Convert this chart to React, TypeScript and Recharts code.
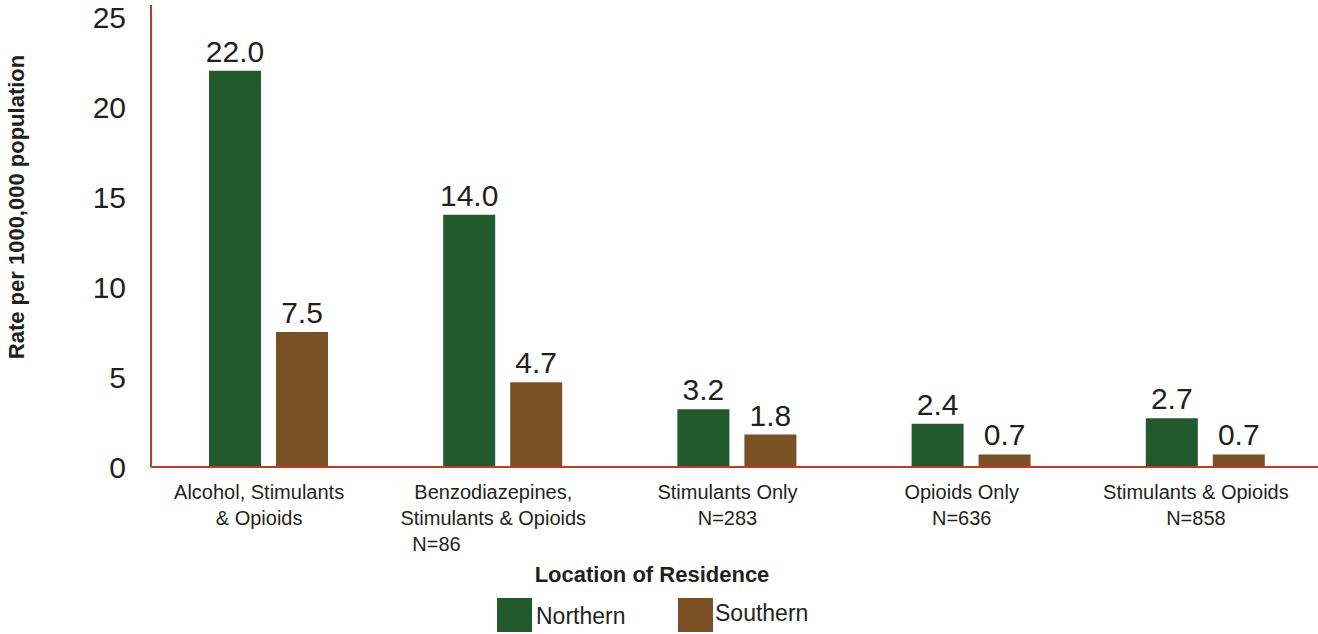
import React from "react";
import { BarChart, Bar, XAxis, YAxis, LabelList, Legend } from "recharts";

const categories = [
  "Alcohol, Stimulants\n& Opioids",
  "Benzodiazepines,\nStimulants & Opioids\nN=86",
  "Stimulants Only\nN=283",
  "Opioids Only\nN=636",
  "Stimulants & Opioids\nN=858",
];
const northern = [22.0, 14.0, 3.2, 2.4, 2.7];
const southern = [7.5, 4.7, 1.8, 0.7, 0.7];
const yTicks = [0, 5, 10, 15, 20, 25];
const seriesNames = ["Northern", "Southern"];
const colors = ["#225A2E", "#7A5024"];
const yTitle = "Rate per 1000,000 population";
const legendTitle = "Location of Residence";

const data = categories.map((c, i) => ({
  category: c,
  Northern: northern[i],
  Southern: southern[i],
}));

const FONT = "'Liberation Sans', Arial, sans-serif";
const TEXT = "#231F20";
const RED = "#BF3A2B";

const XTick = (props: any) => {
  const { x, y, payload } = props;
  const lines = String(payload.value).split("\n");
  return (
    <g>
      {lines.map((ln: string, i: number) => {
        const special = i >= 2;
        return (
          <text
            key={i}
            x={special ? x - 90 : x - 9}
            y={y + 32 + i * 26}
            textAnchor={special ? "start" : "middle"}
            fontFamily={FONT}
            fontSize={20}
            fill={TEXT}
          >
            {ln}
          </text>
        );
      })}
    </g>
  );
};

const YTick = (props: any) => {
  const { y, payload } = props;
  return (
    <text x={126} y={y + 11} textAnchor="end" fontFamily={FONT} fontSize={30} fill={TEXT}>
      {payload.value}
    </text>
  );
};

const YLabel = (props: any) => {
  const vb = props.viewBox || { y: 5, height: 462 };
  const cy = vb.y + vb.height / 2 - 29;
  return (
    <text
      x={24}
      y={cy}
      transform={`rotate(-90, 24, ${cy})`}
      textAnchor="middle"
      fontFamily={FONT}
      fontWeight="bold"
      fontSize={22}
      fill={TEXT}
    >
      {yTitle}
    </text>
  );
};

const LegendContent = (props: any) => {
  const payload = props.payload || [];
  const pos = [497, 678];
  return (
    <div style={{ position: "relative", width: 1318, height: 80, fontFamily: FONT }}>
      <div
        style={{
          position: "absolute",
          left: 0,
          width: 1304,
          top: 6,
          textAlign: "center",
          fontWeight: "bold",
          fontSize: 22,
          color: TEXT,
        }}
      >
        {legendTitle}
      </div>
      {payload.map((p: any, i: number) => (
        <div
          key={p.value}
          style={{ position: "absolute", left: pos[i] ?? 497 + i * 181, top: 42, display: "flex", alignItems: "center" }}
        >
          <div style={{ width: 35, height: 34, background: p.color }} />
          <span style={{ fontSize: 23, color: TEXT, marginLeft: i === 0 ? 4 : 2, marginTop: i === 0 ? 3 : -3 }}>
            {p.value}
          </span>
        </div>
      ))}
    </div>
  );
};

export default function App() {
  return (
    <div style={{ position: "fixed", left: 0, top: 0, width: 1318, height: 634, background: "#fff", overflow: "hidden" }}>
      <BarChart
        width={1322}
        height={634}
        data={data}
        margin={{ top: 5, right: 0, left: 0, bottom: 57 }}
        barSize={52}
        barGap={15}
      >
        <XAxis
          dataKey="category"
          axisLine={{ stroke: RED, strokeWidth: 2 }}
          tickLine={false}
          tickSize={0}
          tickMargin={0}
          interval={0}
          tick={<XTick />}
          height={30}
        />
        <YAxis
          domain={[0, 25.65]}
          ticks={yTicks}
          width={151}
          axisLine={{ stroke: RED, strokeWidth: 2 }}
          tickLine={false}
          tick={<YTick />}
          label={<YLabel />}
        />
        <Legend
          content={<LegendContent />}
          wrapperStyle={{ position: "absolute", left: 0, top: 556, width: 1318, height: 80 }}
        />
        {seriesNames.map((s, i) => (
          <Bar key={s} dataKey={s} name={s} fill={colors[i]} isAnimationActive={false}>
            <LabelList
              dataKey={s}
              position="top"
              offset={9}
              formatter={(v: any) => Number(v).toFixed(1)}
              style={{ fontFamily: FONT, fontSize: 30, fill: TEXT }}
            />
          </Bar>
        ))}
      </BarChart>
    </div>
  );
}
